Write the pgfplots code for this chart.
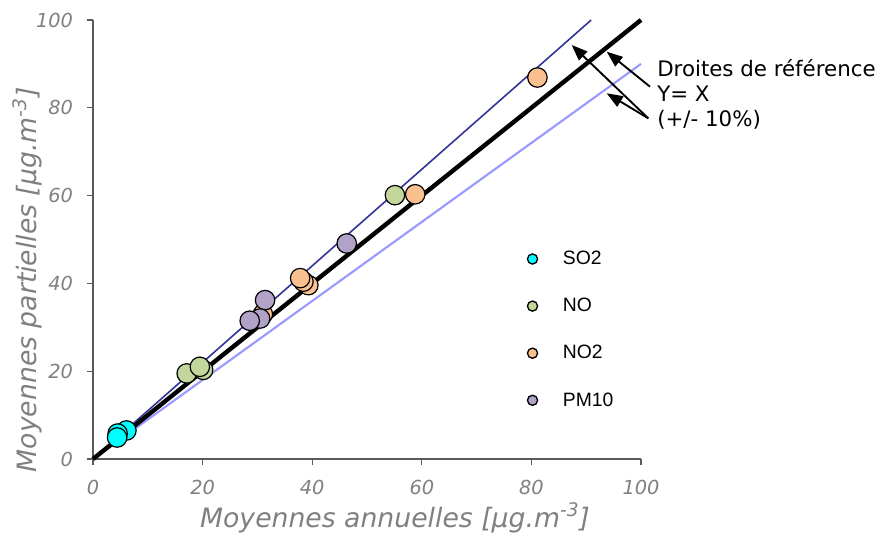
\documentclass[border=0pt]{standalone}
\usepackage{pgfplots}
\pgfplotsset{compat=1.18}
\usetikzlibrary{arrows.meta}
\usepackage{fontspec}
\setmainfont{DejaVu Sans}
\newfontfamily\arial{Liberation Sans}
\definecolor{labgray}{RGB}{128,128,128}
\definecolor{axgray}{RGB}{90,90,90}
\definecolor{cso}{RGB}{0,255,255}
\definecolor{cno}{RGB}{195,214,155}
\definecolor{cnod}{RGB}{250,192,144}
\definecolor{cpm}{RGB}{179,162,199}
\definecolor{darkblue}{RGB}{51,51,153}
\definecolor{lightblue}{RGB}{153,153,255}
\begin{document}
\begin{tikzpicture}
\begin{axis}[
  scale only axis, width=411pt, height=329.25pt,
  xmin=0, xmax=100, ymin=0, ymax=100,
  axis x line=bottom, axis y line=left,
  axis line style={-, draw=axgray, line width=0.8pt},
  tick align=outside, major tick length=4.5pt,
  tick style={draw=axgray, line width=0.8pt},
  xtick={0,20,...,100}, ytick={0,20,...,100},
  minor tick num=0,
  ticklabel style={font=\fontsize{14.5}{16}\selectfont\itshape, text=labgray},
  /pgf/number format/assume math mode=true,
  xticklabel style={yshift=-8pt},
  yticklabel style={xshift=-7pt},
  xlabel={Moyennes annuelles [µg.m\textsuperscript{-3}]},
  ylabel={Moyennes partielles [µg.m\textsuperscript{-3}]},
  label style={font=\fontsize{20}{22}\selectfont\itshape, text=labgray},
  xlabel style={at={(axis description cs:0.551,-0.134)}, anchor=center},
  ylabel style={at={(axis description cs:-0.1204,0.408)}, anchor=center, rotate=0},
  clip=false,
  legend style={at={(axis cs:78.5,48.6)}, anchor=north west, draw=none, fill=none,
    font=\arial\fontsize{14.5}{16}\selectfont, row sep=19.7pt,
    /tikz/every odd column/.append style={column sep=17pt}},
  legend cell align=left,
  legend image code/.code={\draw[#1, mark size=3.8pt, line width=1pt] plot coordinates {(0cm,0cm)};},
]
% reference lines
\addplot[lightblue, line width=1.6pt, forget plot] coordinates {(0,0) (100,90)};
\addplot[darkblue, line width=1.2pt, forget plot] coordinates {(0,0) (90.91,100)};
\addplot[black, line width=3.3pt, forget plot] coordinates {(0,0) (100,100)};
% data
\addplot[only marks, mark=*, mark size=7.3pt, line width=0.9pt, draw=black, fill=cso]
  coordinates {(6.1,6.5) (4.5,5.8) (4.4,4.9)};
\addlegendentry{SO2}
\addplot[only marks, mark=*, mark size=7.3pt, line width=0.9pt, draw=black, fill=cno]
  coordinates {(20.1,20.3) (17.1,19.5) (19.5,21.0) (55.1,60.1)};
\addlegendentry{NO}
\addplot[only marks, mark=*, mark size=7.3pt, line width=0.9pt, draw=black, fill=cnod]
  coordinates {(31.0,33.0) (39.3,39.6) (38.4,40.4) (37.8,41.2) (58.8,60.3) (81.1,86.9)};
\addlegendentry{NO2}
\addplot[only marks, mark=*, mark size=7.3pt, line width=0.9pt, draw=black, fill=cpm]
  coordinates {(31.4,36.2) (30.5,32.0) (28.6,31.5) (46.3,49.1)};
\addlegendentry{PM10}
% annotation
\draw[line width=1.4pt, -{Triangle[length=12pt,width=9pt]}] (axis cs:101.64,84.81) -- (axis cs:93.74,92.78);
\draw[line width=1.4pt, -{Triangle[length=12pt,width=9pt]}] (axis cs:101.33,77.6) -- (axis cs:87.35,94.31);
\draw[line width=1.4pt, -{Triangle[length=12pt,width=9pt]}] (axis cs:101.33,77.6) -- (axis cs:93.74,83.3);
\node[anchor=base west, inner sep=0, font=\fontsize{16}{19}\selectfont] at (axis cs:102.92,87.24) {Droites de référence};
\node[anchor=base west, inner sep=0, font=\fontsize{16}{19}\selectfont] at (axis cs:102.92,81.39) {Y= X};
\node[anchor=base west, inner sep=0, font=\fontsize{16}{19}\selectfont] at (axis cs:102.92,75.85) {(+/- 10\%)};
\coordinate (bbsw) at (rel axis cs:-0.16971,-0.16856);
\coordinate (bbne) at (rel axis cs:1.43796,1.04556);
\end{axis}
\pgfresetboundingbox
\path[use as bounding box] (bbsw) rectangle (bbne);
\end{tikzpicture}
\end{document}
